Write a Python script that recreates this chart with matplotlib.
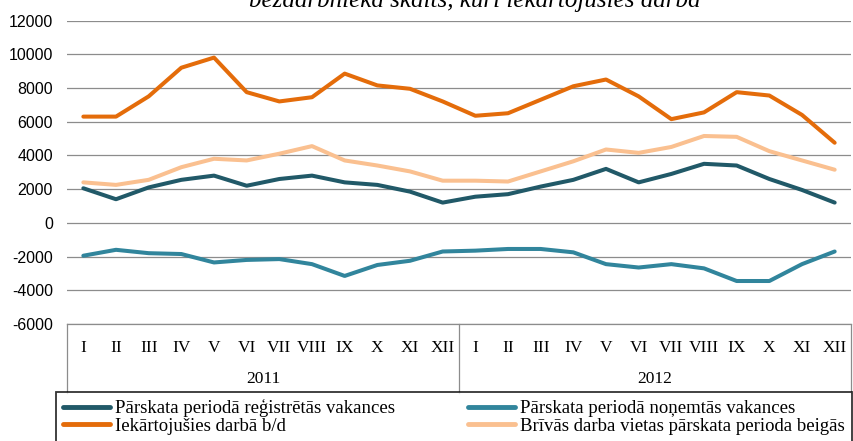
import matplotlib
matplotlib.use("Agg")
import matplotlib.pyplot as plt
from matplotlib.transforms import blended_transform_factory
from matplotlib.lines import Line2D

plt.rcParams["axes.unicode_minus"] = False

months = ["I", "II", "III", "IV", "V", "VI", "VII", "VIII", "IX", "X", "XI", "XII"]
years = ["2011", "2012"]

registered = [2050, 1400, 2100, 2550, 2800, 2200, 2600, 2800, 2400, 2250, 1850, 1200,
              1550, 1700, 2150, 2550, 3200, 2400, 2900, 3500, 3400, 2600, 1950, 1200]
employed = [6300, 6300, 7500, 9200, 9800, 7750, 7200, 7450, 8850, 8150, 7950, 7200,
            6350, 6500, 7300, 8100, 8500, 7500, 6150, 6550, 7750, 7550, 6400, 4750]
removed = [-1950, -1600, -1800, -1850, -2350, -2200, -2150, -2450, -3150, -2500, -2250, -1700,
           -1650, -1550, -1550, -1750, -2450, -2650, -2450, -2700, -3450, -3450, -2450, -1700]
free = [2400, 2250, 2550, 3300, 3800, 3700, 4100, 4550, 3700, 3400, 3050, 2500,
        2500, 2450, 3050, 3650, 4350, 4150, 4500, 5150, 5100, 4250, 3700, 3150]

labels = ["Pārskata periodā reģistrētās vakances",
          "Pārskata periodā noņemtās vakances",
          "Iekārtojušies darbā b/d",
          "Brīvās darba vietas pārskata perioda beigās"]
colors = ["#215968", "#31859C", "#E46C0A", "#FAC090"]
title = "bezdarbnieka skaits, kuri iekārtojušies darbā"

W, H = 854, 441
fig = plt.figure(figsize=(W / 100, H / 100), dpi=100)
left, right, top, bottom = 67, 851, 20.5, 324
ax = fig.add_axes([left / W, 1 - bottom / H, (right - left) / W, (bottom - top) / H])

x = list(range(len(registered)))
series = [registered, removed, employed, free]
lines = []
for s, c, lab in zip(series, colors, labels):
    ln, = ax.plot(x, s, color=c, lw=2.9, label=lab, solid_capstyle="round", solid_joinstyle="round", zorder=3)
    lines.append(ln)

ax.set_ylim(-6000, 12000)
ax.set_xlim(-0.5, len(x) - 0.5)
ax.set_yticks(range(-6000, 12001, 2000))
ax.yaxis.grid(True, color="#8c8c8c", lw=0.9)
ax.set_axisbelow(True)
for sp in ["left", "right", "top"]:
    ax.spines[sp].set_visible(False)
ax.spines["bottom"].set_color("#8c8c8c")
ax.spines["bottom"].set_linewidth(0.9)
ax.tick_params(axis="y", length=0, pad=10, labelsize=11.5)
for t in ax.get_yticklabels():
    t.set_fontfamily("Liberation Sans")
ax.set_xticks([])

# multi-level category axis
tr = blended_transform_factory(ax.transData, ax.transAxes)
hpx = bottom - top
def yfrac(py):
    return -(py - bottom) / hpx

for i in range(len(x)):
    ax.text(i, yfrac(348), months[i % 12], transform=tr, ha="center", va="center",
            fontsize=12.5, family="Liberation Serif", clip_on=False)
for k, yr in enumerate(years):
    ax.text(k * 12 + 5.5, yfrac(379), yr, transform=tr, ha="center", va="center",
            fontsize=12.5, family="Liberation Serif", clip_on=False)
for xb in [-0.5, 11.5, 23.5]:
    ax.add_line(Line2D([xb, xb], [0, yfrac(393)], transform=tr, color="#8c8c8c", lw=0.9, clip_on=False))

# partially visible title
fig.text(475 / W, 1 - 7 / H, title, ha="center", va="baseline", fontsize=18,
         family="Liberation Serif", style="italic")

order = [lines[0], lines[2], lines[1], lines[3]]
leg = fig.legend(handles=order, labels=[l.get_label() for l in order], ncol=2,
                 loc="upper left", bbox_to_anchor=(56 / W, 1 - 392 / H),
                 prop={"family": "Liberation Serif", "size": 13.5},
                 frameon=True, fancybox=False, edgecolor="black", handlelength=2.5,
                 handletextpad=0.27, columnspacing=3.85, borderpad=0.4, labelspacing=0.0,
                 borderaxespad=0)
leg.get_frame().set_linewidth(1.3)
for h in leg.legend_handles:
    h.set_linewidth(3.5)

fig.savefig("out.png", dpi=100)
